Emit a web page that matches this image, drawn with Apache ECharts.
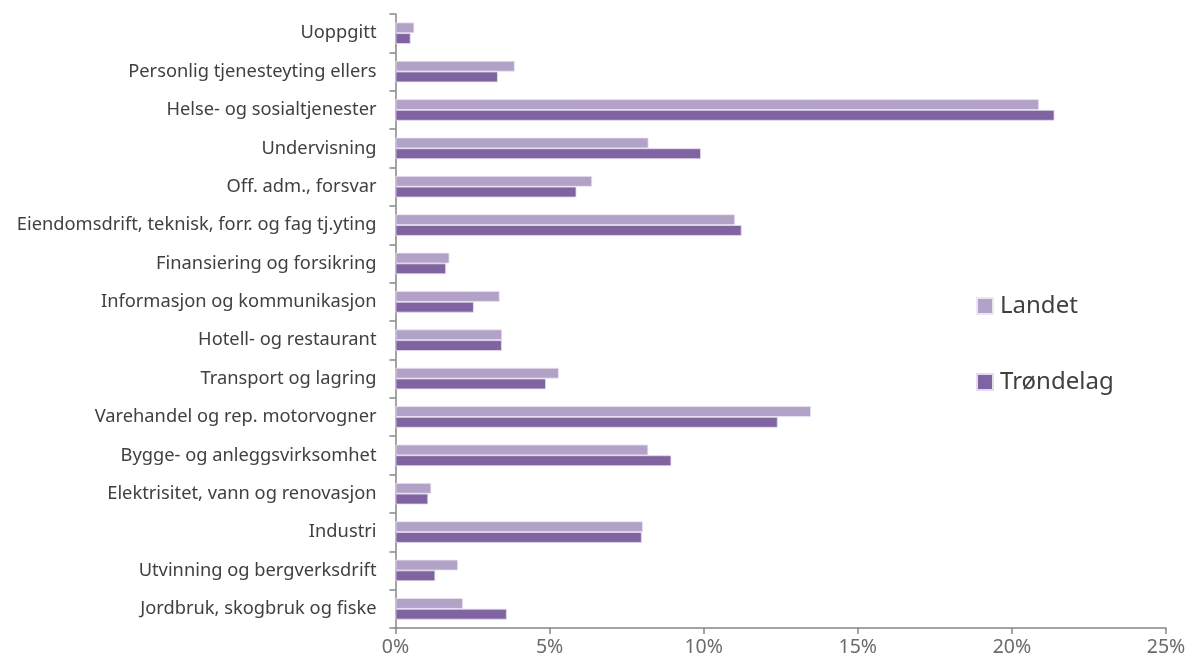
<!DOCTYPE html>
<html>
<head>
<meta charset="utf-8">
<script src="https://cdn.jsdelivr.net/npm/echarts@6/dist/echarts.min.js"></script>
<style>html,body{margin:0;padding:0;background:#fff;}#c{width:1194px;height:666px;}</style>
</head>
<body>
<div id="c"></div>
<script>
const categories = [
  "Jordbruk, skogbruk og fiske",
  "Utvinning og bergverksdrift",
  "Industri",
  "Elektrisitet, vann og renovasjon",
  "Bygge- og anleggsvirksomhet",
  "Varehandel og rep. motorvogner",
  "Transport og lagring",
  "Hotell- og restaurant",
  "Informasjon og kommunikasjon",
  "Finansiering og forsikring",
  "Eiendomsdrift, teknisk, forr. og fag tj.yting",
  "Off. adm., forsvar",
  "Undervisning",
  "Helse- og sosialtjenester",
  "Personlig tjenesteyting ellers",
  "Uoppgitt"
];
const landet =    [2.19, 2.03, 8.03, 1.16, 8.20, 13.48, 5.30, 3.46, 3.38, 1.75, 11.02, 6.38, 8.21, 20.88, 3.87, 0.61];
const trondelag = [3.61, 1.29, 7.99, 1.06, 8.95, 12.40, 4.88, 3.45, 2.54, 1.64, 11.23, 5.87, 9.91, 21.38, 3.32, 0.49];
const xTicks = [0, 5, 10, 15, 20, 25];

const chart = echarts.init(document.getElementById('c'));
const font = '"Noto Sans", sans-serif';
chart.setOption({
  animation: false,
  textStyle: { fontFamily: font },
  grid: { left: 395.5, right: 28, top: 14, bottom: 38 },
  legend: {
    orient: 'vertical',
    left: 971,
    top: 289,
    itemGap: 52,
    itemWidth: 16,
    itemHeight: 16,
    icon: 'rect',
    textStyle: { fontSize: 24, color: '#404040', fontFamily: font, padding: [0, 0, 0, 2] },
    data: ['Landet', 'Trøndelag']
  },
  xAxis: {
    type: 'value',
    min: 0, max: 25, interval: 5,
    axisLine: { show: true, lineStyle: { color: '#868686', width: 1.5 } },
    axisTick: { show: true, length: 6, lineStyle: { color: '#868686', width: 1.5 } },
    splitLine: { show: false },
    axisLabel: {
      color: '#6b6b6b', fontSize: 19.5, margin: 9, fontFamily: font,
      formatter: v => xTicks.includes(v) ? v + '%' : ''
    }
  },
  yAxis: {
    type: 'category',
    data: categories,
    axisLine: { show: true, lineStyle: { color: '#868686', width: 1.5 } },
    axisTick: { show: true, length: 6, lineStyle: { color: '#868686', width: 1.5 } },
    axisLabel: { color: '#404040', fontSize: 18.3, margin: 19, fontFamily: font }
  },
  series: [
    {
      name: 'Landet', type: 'bar', data: landet,
      barGap: '0%', barCategoryGap: '44%',
      itemStyle: { color: '#b3a2c7', borderColor: '#ece6f3', borderWidth: 0.8 }
    },
    {
      name: 'Trøndelag', type: 'bar', data: trondelag,
      barGap: '0%', barCategoryGap: '44%',
      itemStyle: { color: '#8064a2', borderColor: '#e4dcee', borderWidth: 0.8 }
    }
  ]
});
</script>
</body>
</html>
